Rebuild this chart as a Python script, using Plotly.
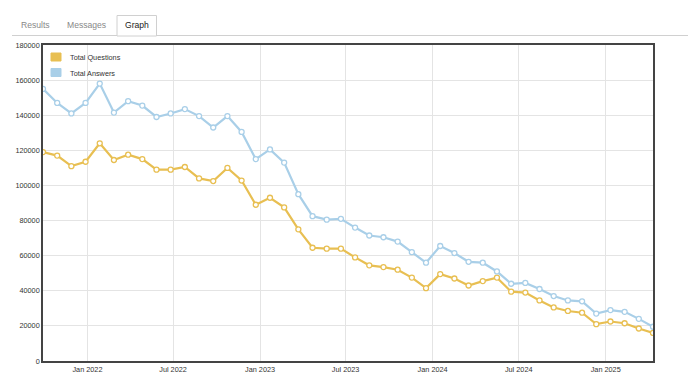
import pandas as pd
import plotly.graph_objects as go

# ---- data ----
start_date = "2021-09-29"
n_points = 44
dates = pd.date_range(start=start_date, periods=n_points, freq="30D")

total_questions = [
    119000, 117000, 111000, 113500, 124000, 114500, 117500, 115000, 109000, 109000,
    110500, 104000, 102500, 110000, 102800, 89000, 93000, 87500, 75000, 64500,
    64000, 64000, 59000, 54500, 53500, 52000, 47500, 41500, 49500, 47000,
    43000, 45500, 47500, 39500, 39000, 34500, 30500, 28500, 27500, 21000,
    22500, 21500, 18500, 16000,
]
total_answers = [
    155000, 147000, 141000, 147000, 158000, 141500, 148000, 145500, 139000, 141000,
    143500, 139500, 133000, 139500, 130500, 115000, 120500, 113000, 95000, 82500,
    80500, 81000, 76000, 71500, 70500, 68000, 62000, 56000, 65500, 61500,
    56500, 56000, 51000, 44000, 44500, 41000, 37000, 34500, 34000, 27000,
    29000, 28000, 24000, 19500,
]
series_names = ["Total Questions", "Total Answers"]
tab_labels = ["Results", "Messages", "Graph"]

# ---- style / geometry (page pixel coords; page body has an 8px margin) ----
OFF = 8
W, H = 688, 370
L, R, T, B = 43, 653, 45, 361          # plot area in page coords
yellow = "#e8bf52"
blue = "#a9cfe8"
font_family = "Arial, Liberation Sans, sans-serif"

def px(x):
    return (x - L) / (R - L)

def py(y):
    return (B - y) / (B - T)

fig = go.Figure()
for name, vals, col in [(series_names[0], total_questions, yellow),
                        (series_names[1], total_answers, blue)]:
    fig.add_trace(go.Scatter(
        x=dates, y=vals, name=name, mode="lines+markers",
        line=dict(color=col, width=2.2),
        marker=dict(symbol="circle", size=5, color="white",
                    line=dict(color=col, width=1.3)),
        showlegend=False,
    ))

fig.update_layout(
    width=W, height=H,
    margin=dict(l=L - OFF, r=(W + OFF) - R, t=T - OFF, b=(H + OFF) - B, pad=0,
                autoexpand=False),
    paper_bgcolor="white", plot_bgcolor="white",
    font=dict(family=font_family, size=7.3, color="#333"),
    showlegend=False,
    xaxis=dict(
        type="date", automargin=False,
        range=[dates[0], dates[-1]],
        tick0="2022-01-01", dtick="M6", tickformat="%b %Y",
        showgrid=True, gridcolor="#e4e4e4", gridwidth=1,
        showline=True, linecolor="#444", linewidth=1.6, mirror=True,
        ticks="", zeroline=False, tickfont=dict(color="#333"),
    ),
    yaxis=dict(
        automargin=False,
        range=[0, 180000], dtick=20000, tickformat="d",
        showgrid=True, gridcolor="#e4e4e4", gridwidth=1,
        showline=True, linecolor="#444", linewidth=1.6, mirror=True,
        ticks="", zeroline=False, tickfont=dict(color="#333"),
    ),
)

# legend (drawn inside plot, top-left)
leg_rows = [(series_names[0], yellow, 57), (series_names[1], blue, 72.5)]
for name, col, yc in leg_rows:
    fig.add_shape(type="rect", xref="paper", yref="paper",
                  x0=px(51), x1=px(61), y0=py(yc + 4), y1=py(yc - 4),
                  line=dict(color=col, width=1), fillcolor=col)
    fig.add_annotation(text=name, xref="paper", yref="paper",
                       x=px(68), y=py(yc + 0.5), xanchor="left", yanchor="middle",
                       showarrow=False, font=dict(size=7.3, color="#333"))

# tabs (page chrome)
fig.add_shape(type="line", xref="paper", yref="paper",
              x0=px(12), x1=px(692), y0=py(35.5), y1=py(35.5),
              line=dict(color="#d0d0d0", width=1))
fig.add_shape(type="rect", xref="paper", yref="paper",
              x0=px(117), x1=px(156.5), y0=py(36), y1=py(15.5),
              line=dict(color="#d0d0d0", width=1), fillcolor="white")
tab_x = [35, 86, 137]
tab_col = ["#888", "#888", "#222"]
for lab, tx, tc in zip(tab_labels, tab_x, tab_col):
    fig.add_annotation(text=lab, xref="paper", yref="paper",
                       x=px(tx), y=py(25.5), xanchor="center", yanchor="middle",
                       showarrow=False, font=dict(size=8.6, color=tc))

fig.write_html("out.html")
